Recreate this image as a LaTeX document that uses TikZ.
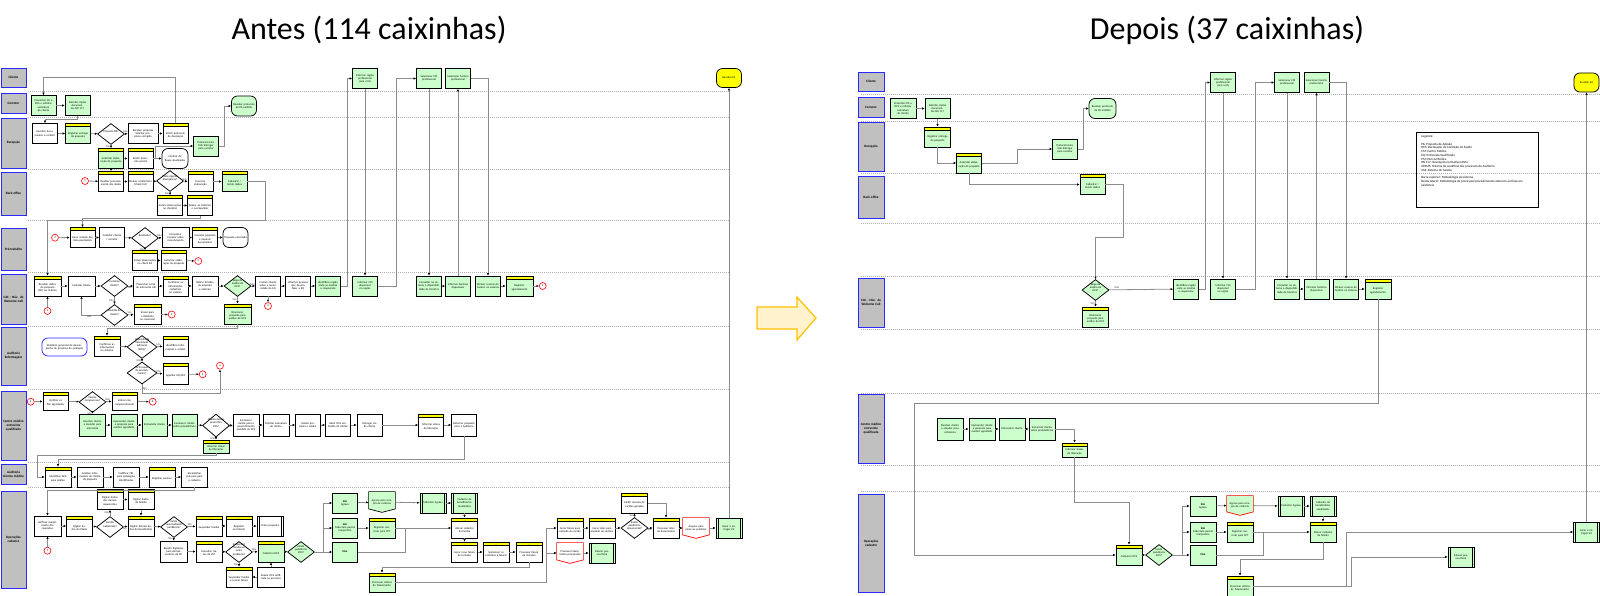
\documentclass[tikz,border=0pt]{standalone}
\usepackage{fontspec}
\setmainfont{Carlito}
\usetikzlibrary{shapes.geometric,arrows.meta,backgrounds}
\definecolor{grn}{RGB}{204,255,204}
\definecolor{hdy}{RGB}{255,255,0}
\definecolor{lanefill}{RGB}{192,192,192}
\definecolor{laneblue}{RGB}{40,40,255}
\definecolor{cgray}{RGB}{140,140,140}
\definecolor{sgray}{RGB}{175,175,175}
\definecolor{arrfill}{RGB}{255,242,204}
\definecolor{arrdraw}{RGB}{255,192,0}
\newcommand\bxf{\fontsize{2.8}{3.2}\selectfont}
\newcommand\hdf{\fontsize{1.9}{2}\selectfont}
\newcommand\lnf{\fontsize{3.3}{3.8}\selectfont\bfseries}
\newcommand\lgf{\fontsize{3.2}{3.75}\selectfont}
\newcommand\dt[1]{\makebox[0pt]{\smash{\parbox[c]{16pt}{\centering\bxf #1}}}}
\newcommand\offshape[3]{\begin{scope}[on background layer]\filldraw[fill=#2,draw=#3,line width=0.7pt] (#1.north west) -- (#1.north east) -- ([yshift=3.5pt]#1.south east) -- (#1.south) -- ([yshift=3.5pt]#1.south west) -- cycle;\end{scope}}
\tikzset{
 bx/.style={draw, line width=0.75pt, fill=white, minimum width=25pt, minimum height=20pt, inner sep=0.6pt, text width=22.5pt, align=center, font=\bxf},
 gb/.style={bx, fill=grn},
 hd/.style={path picture={\fill[hdy] (path picture bounding box.north west) rectangle ([yshift=-3.2pt]path picture bounding box.north east);
   \draw[line width=0.5pt] ([yshift=-3.2pt]path picture bounding box.north west) -- ([yshift=-3.2pt]path picture bounding box.north east);
   \node[font=\hdf, inner sep=0pt] at ([yshift=-1.6pt]path picture bounding box.north) {#1};}, execute at begin node={\rule{0pt}{5.4pt}}},
 hd/.default=Arquivo,
 sub/.style={path picture={\draw[line width=0.5pt] ([xshift=2.2pt]path picture bounding box.north west) -- ([xshift=2.2pt]path picture bounding box.south west);
   \draw[line width=0.5pt] ([xshift=-2.2pt]path picture bounding box.north east) -- ([xshift=-2.2pt]path picture bounding box.south east);}},
 term/.style={bx, rounded corners=6pt},
 offp/.style={bx, draw=none, fill=none},
 dec/.style={diamond, draw, line width=0.75pt, fill=white, minimum width=27pt, minimum height=21pt, inner sep=0pt},
 gdec/.style={dec, fill=grn},
 cn/.style={circle, draw=red, line width=0.6pt, fill=white, minimum size=7pt, inner sep=0pt, font=\bxf},
 conn/.style={draw=cgray, line width=0.8pt, -{Latex[length=2.4pt,width=2.2pt,color=black]}},
 ln/.style={draw=cgray, line width=0.8pt},
 lane/.style={draw=laneblue, line width=0.9pt, fill=lanefill, minimum width=25pt, inner sep=0.5pt, text width=23pt, align=center, font=\lnf},
 lanesep/.style={draw=sgray, line width=0.5pt, dash pattern=on 1pt off 1pt},
 lbl/.style={font=\bxf, inner sep=0.4pt, text=black!75},
}
\begin{document}
\begin{tikzpicture}[x=1pt,y=-1pt]
\useasboundingbox (0,0) rectangle (1600,596);
% titles
\node[font=\fontsize{32}{38}\selectfont, anchor=base] (tAntes) at (369,40) {Antes (114 caixinhas)};
\node[font=\fontsize{32}{38}\selectfont, anchor=base] (tDepois) at (1227,40) {Depois (37 caixinhas)};
% big arrow
\filldraw[fill=arrfill, draw=arrdraw, line width=1.2pt] (757,307) -- (797,307) -- (797,297) -- (816,318) -- (797,340) -- (797,329) -- (757,329) -- cycle;
% lane separators
\foreach \yy in {91,117,169,220,272,326,389,462,487} \draw[lanesep] (28,\yy) -- (730,\yy);
\foreach \yy in {94,121,173,223,276,329,393,465,491} \draw[lanesep] (861,\yy) -- (1600,\yy);
% lane labels left
\node[lane, minimum height=19pt] (LL1) at (13.5,77.5) {Cliente};
\node[lane, minimum height=20pt] (LL2) at (13.5,103) {Corretor};
\node[lane, minimum height=50pt] (LL3) at (13.5,143) {Recepção};
\node[lane, minimum height=43pt] (LL4) at (13.5,193.5) {Back office};
\node[lane, minimum height=42pt] (LL5) at (13.5,249) {Pré-trabalho};
\node[lane, minimum height=50pt] (LL6) at (13.5,299) {CAC - Núc. de Welcome Call};
\node[lane, minimum height=58pt] (LL7) at (13.5,356) {Auditoria Enfermagem};
\node[lane, minimum height=69pt] (LL8) at (13.5,425.5) {Centro médico entrevista qualificada};
\node[lane, minimum height=20pt] (LL9) at (13.5,474) {Auditoria técnica médica};
\node[lane, minimum height=97pt] (LL10) at (13.5,539.5) {Operações cadastro};
% lane labels right
\node[lane, minimum width=26pt, minimum height=19pt] (RL1) at (871,81.5) {Cliente};
\node[lane, minimum width=26pt, minimum height=20pt] (RL2) at (871,107) {Corretor};
\node[lane, minimum width=26pt, minimum height=49pt] (RL3) at (871,146.5) {Recepção};
\node[lane, minimum width=26pt, minimum height=42pt] (RL4) at (871,197) {Back office};
\node[lane, minimum width=26pt, minimum height=49pt] (RL6) at (871,302.5) {CAC - Núc. de Welcome Call};
\node[lane, minimum width=26pt, minimum height=69pt] (RL8) at (871,428.5) {Centro médico entrevista qualificada};
\node[lane, minimum width=26pt, minimum height=98pt] (RL10) at (871,543) {Operações cadastro};

% ================= LEFT (Antes) =================
% Cliente
\node[gb] (T1) at (365,78.5) {Informar região preferencial para a EQ};
\node[gb] (T2) at (429,78.5) {Selecionar CM preferencial};
\node[gb] (T3) at (458,78.5) {Selecionar horário preferencial};
\node[term, fill=hdy, minimum height=19pt] (KIT) at (729,78) {Receber kit};
% Corretor
\node[gb] (A1) at (43.5,105.5) {Preencher PA e DCS e solicitar assinatura do cliente};
\node[gb] (A2) at (77.5,105.5) {Solicitar cópias documentos RN 117};
\node[term, fill=grn] (R9) at (244,106) {Receber protocolo da PA emitido};
% Recepcao
\node[bx] (R1) at (45,133.5) {Receber documentos e conferir};
\node[gb, hd] (R2) at (78,133.5) {Registrar entrega da proposta};
\node[dec] (D1) at (111,134) {\dt{Proposta OK?}};
\node[bx, minimum width=30pt, text width=27pt] (R3) at (143,133.5) {Receber proposta Solicitar proposta corrigida};
\node[bx, hd] (R4) at (175.5,133.5) {Emitir protocolo de devolução};
\node[gb, hd] (R5) at (111,158.5) {Autorizar elaboração da proposta};
\node[bx, hd] (R6) at (140.5,158.5) {Emitir protocolo parcial};
\node[term, minimum width=26pt] (R7) at (175,158.5) {Conferir de fluxos atualizados};
\node[gb] (R8) at (206,146) {Protocolo Emitido Entregar para corretor};
% Back office
\node[cn] (c5a) at (85,181) {5};
\node[bx, hd] (B1) at (111,181.5) {Realizar processamento dos dados};
\node[bx, hd] (B2) at (140.5,181.5) {Efetuar conferência (check list)};
\node[dec] (D2) at (170,181) {\dt{Existe alguma divergência?}};
\node[bx, hd] (B3) at (200.5,181.5) {Encerrar elaboração};
\node[gb, hd] (B4) at (234.5,181.5) {Cadastrar / Incluir dados};
\node[bx, hd] (B5) at (170,205.5) {Incluir observações no checklist};
\node[bx, hd] (B6) at (200,205.5) {Anexar ao histórico e acompanhar};
% Pre-trabalho
\node[cn] (c2a) at (55,237.7) {2};
\node[bx, hd] (P1) at (82.5,237.5) {Gerar relação dos itens pendentes};
\node[bx] (P2) at (112,237.5) {Contatar cliente / corretor};
\node[dec] (D3) at (145,238) {\dt{Resolvido?}};
\node[bx, minimum width=27pt] (P3) at (175.5,237.5) {Comunicar corretor sobre cancelamento};
\node[bx, hd] (P4) at (205,237.5) {Cancelar proposta e arquivar documentos};
\node[term] (P5) at (235.5,237.5) {Proposta cancelada};
\node[bx, hd] (P6) at (145,260.5) {Incluir observações no check list};
\node[bx, hd] (P7) at (173.5,260.5) {Autorizar elaboração da proposta};
\node[cn] (c5b) at (198.3,261) {5};
% CAC
\node[bx, hd, minimum width=27pt] (C1) at (47.5,286) {Receber dados da proposta (PA) via sistema};
\node[cn] (c1a) at (47.5,311) {1};
\node[bx, minimum width=27pt] (C2) at (81.5,286) {Contatar cliente};
\node[dec] (D4) at (114.5,286) {\dt{Localizou cliente?}};
\node[bx] (C3) at (146,286) {Preencher script de entrevista call};
\node[bx, hd] (C4) at (175.5,286) {Confirmar as informações cadastrais no sistema};
\node[bx, minimum width=26pt] (C5) at (205,286) {Retirar dúvidas da proposta e contrato};
\node[gdec] (D5) at (237.5,286) {\dt{Exige de análise da DCS?}};
\node[bx] (C6) at (268,286) {Instruir cliente sobre a necessidade da EQ};
\node[cn] (c3a) at (268,306) {3};
\node[dec] (D6) at (114.5,315) {\dt{Dúvidas do cliente?}};
\node[bx, hd, minimum width=27pt] (C7) at (147.5,314.5) {Enviar para o Relatório ao comercial};
\node[cn] (c2b) at (171.7,314.5) {2};
\node[gb, hd, minimum width=27pt] (C8) at (237.5,314) {Direcionar proposta para análise de DCS};
\node[bx] (C9) at (298,286) {Informar pessoas que devem fazer a EQ};
\node[gb] (C10) at (328,286) {Identificar região onde se localiza o requerente};
\node[gb] (C11) at (365,286) {Informar CM disponível na região};
\node[gb] (C12) at (429,286) {Consultar no sistema a disponibilidade de horários};
\node[gb] (C13) at (458,286) {Informar horários disponíveis};
\node[gb] (C14) at (488,286) {Efetuar reserva do horário no sistema};
\node[gb, hd, minimum width=27pt] (C15) at (519.5,286) {Registrar agendamento};
\node[cn] (c4a) at (542.7,286) {4};
% Auditoria Enfermagem
\node[bx, rounded corners=6pt, draw=laneblue, minimum width=45pt, minimum height=18pt, text width=40pt] (E0) at (64.5,347) {Relatório gerencial de desempenho do processo de avaliação};
\node[bx, hd, minimum width=26pt] (E1) at (107,346) {Confirmar as informações no sistema};
\node[dec, minimum width=30pt, minimum height=23pt] (D7) at (142,347) {\dt{Necessita de informação adicional (DCS)?}};
\node[bx, hd] (E2) at (175.5,346) {Identificar informações a coletar};
\node[dec, minimum width=30pt, minimum height=22pt] (D8) at (142,373) {\dt{DCS requer de procedimento?}};
\node[bx, hd, minimum height=21pt] (E3) at (175.5,374) {Agendar EQ/PM};
\node[cn] (c3b) at (202.7,374.3) {3};
\node[cn] (c4b) at (220,365.7) {4};
% Centro medico
\node[cn] (c4c) at (30.7,401.7) {4};
\node[bx, hd, minimum height=18pt] (M1) at (55.5,401) {Verificar os PAs agendados};
\node[dec] (D9) at (92.5,402) {\dt{Cliente compareceu?}};
\node[bx, hd, minimum height=18pt] (M2) at (124.5,401) {Indicar não comparecimento};
\node[cn] (c6a) at (152.7,401.7) {6};
\node[gb, minimum width=26pt, minimum height=22pt] (M3) at (92.5,425) {Receber cliente e atender para entrevista};
\node[gb, minimum width=26pt, minimum height=22pt] (M4) at (124,425) {Apresentar cliente a proposta para médico agendado};
\node[gb, minimum height=22pt] (M5) at (154.5,425) {Entrevistar cliente};
\node[gb, minimum height=22pt] (M6) at (184.5,425) {Esclarecer cliente sobre preexistência};
\node[dec, minimum height=23pt] (D10) at (216,425.5) {\dt{Cliente deseja preencher DCS?}};
\node[gb, hd, minimum width=26pt, minimum height=13pt] (M7) at (216,446.5) {Informar status de liberação};
\node[bx, minimum width=26pt, minimum height=22pt] (M8) at (246,425) {Esclarecer cliente para o preenchimento assistido da DCS};
\node[bx, minimum width=26pt, minimum height=22pt] (M9) at (276,425) {Solicitar assinatura do cliente};
\node[bx, minimum height=22pt] (M10) at (308,425) {Avaliar proposta e validar};
\node[bx, minimum height=22pt] (M11) at (338,425) {Reter DCS embutida do cliente};
\node[bx, minimum height=22pt] (M12) at (369.5,425) {Entregar via do cliente};
\node[bx, hd, minimum height=22pt] (M13) at (431,425) {Informar status de liberação};
\node[bx, minimum height=22pt] (M14) at (464,425) {Retornar proposta para a Auditoria};
% Auditoria tecnica
\node[bx, hd, minimum width=26pt] (TA1) at (58,477) {Identificar DCS para análise};
\node[bx, minimum width=26pt] (TA2) at (90,477) {Analisar informações do cliente da proposta};
\node[bx, minimum width=26pt] (TA3) at (126,477) {Codificar CID para patologias identificadas};
\node[bx, hd, minimum width=26pt] (TA4) at (162,477) {Registrar parecer};
\node[bx, minimum width=26pt] (TA5) at (194.5,477) {Encaminhar processo para o cadastro};
% Operacoes
\node[bx, minimum width=27pt] (O1) at (47.5,526) {Verificar cumprimento dos requisitos};
\node[cn] (c1b) at (47.5,550.7) {1};
\node[bx, hd, minimum width=26pt] (O2) at (79.5,526) {Digitar dados do titular};
\node[dec] (D11) at (110,527) {\dt{Família cadastrada?}};
\node[bx, hd, minimum width=26pt] (O3) at (110,499.5) {Digitar dados dos demais requerentes};
\node[bx, hd, minimum width=26pt] (O4) at (141,499.5) {Digitar dados da família};
\node[bx, hd=SGS, minimum width=26pt] (O5) at (141,526) {Digitar demais dados do beneficiário};
\node[dec] (D12) at (174,527) {\dt{Existe anormalidade pendência?}};
\node[bx, hd=SGS, minimum width=26pt] (O6) at (209,526) {Suspender família};
\node[bx, hd=SGS, minimum width=26pt] (O7) at (239,526) {Registrar ocorrência};
\node[bx, sub, minimum width=26pt] (O8) at (270,526) {Tratar proposta};
\node[bx, minimum width=27pt, minimum height=21pt] (O9) at (173.5,551.5) {Repetir digitação para demais usuários da PA};
\node[bx, hd=SGS, minimum width=26pt, minimum height=21pt] (O10) at (209,551.5) {Consultar status da PM};
\node[dec] (D13) at (239,552) {\dt{Suspender família ou outro problema?}};
\node[bx, hd=SGS, minimum width=26pt] (O11) at (239,577) {Suspender família e revisar fatura};
\node[bx, minimum width=27pt] (O12) at (271,577) {Anexar DCS retificada ao processo};
\node[gb, hd=SGS, minimum width=26pt, minimum height=21pt] (O13) at (271,551.5) {Cadastrar DCS};
\node[gdec] (D14) at (301,552) {\dt{Existe pendência DCS?}};
\node[gb] (O14) at (345,503) {\textbf{Sim}\\Agravo};
\node[offp, minimum width=26pt] (O15) at (382,502) {Agravo para compra de carência};
\offshape{O15}{grn}{black}
\node[gb, sub, minimum width=26pt] (O16) at (433,503) {Cadastrar Agravo};
\node[gb, sub, minimum width=26pt] (O17) at (464.5,503) {Cadastro de beneficiários atualizados};
\node[gb] (O18) at (345,528) {\textbf{Sim}\\Cobertura parcial temporária};
\node[gb, hd=SGS, minimum width=26pt] (O19) at (382,528) {Registrar contrato para CPT};
\node[bx, hd=SGS, minimum width=26pt] (O20) at (464.5,528) {Alterar cadastro da família};
\node[gb] (O21) at (345,552) {\textbf{Não}};
\node[bx, hd=SGS, minimum width=26pt] (O22) at (464.5,552) {Gerar nova fatura de inclusão};
\node[bx, hd=SGS, minimum width=26pt] (O23) at (496,552) {Selecionar os contratos a faturar};
\node[bx, hd=SGS, minimum width=26pt] (O24) at (529,552) {Processar fatura de inclusão};
\node[gb, hd=SGS, minimum width=26pt, minimum height=19pt] (O25) at (382,582.5) {Processar rotinas de faturamento};
\node[bx, hd=SGS, minimum width=26pt] (O26) at (570,528) {Gerar fatura para emissão do cartão};
\node[offp, minimum width=26pt] (O27) at (570,553) {Processo faturamento processado};
\offshape{O27}{white}{red}
\node[gb, sub, minimum width=26pt] (O28) at (602,553) {Faturar pessoa física};
\node[bx, hd=SGS, minimum width=26pt] (O29) at (602,528) {Gerar lotes para emissão de cartões};
\node[dec] (D15) at (634.5,528) {\dt{Existe pendência documental?}};
\node[bx, hd=SGS, minimum width=26pt] (O30) at (634.5,503) {Emitir resumo de cartões gerados};
\node[bx, hd=SGS, minimum width=26pt] (O31) at (666,528) {Processar lotes de documentos};
\node[offp, minimum width=26pt] (O32) at (696,528) {Arquivo para envio ao produtor};
\offshape{O32}{white}{red}
\node[gb, sub, minimum width=26pt] (O33) at (729,528) {Gerar e entregar kit};

% ---- left connectors
\draw[conn] (A1) -- (A2);
\draw[conn] (R4.north) -- (R4.north |- 0,77) -| (A1.north);
\draw[conn] (A2.south) -- (A2.south |- 0,119.5) -| (R1.north);
\draw[conn] (R1) -- (R2);
\draw[conn] (R2) -- (D1);
\draw[conn] (D1) -- node[lbl,above,pos=0.3]{Não} (R3);
\draw[conn] (R3) -- (R4);
\draw[conn] (D1) -- node[lbl,left,pos=0.45]{Sim} (R5);
\draw[conn] (R5) -- (R6);
\draw[conn] (R6) -- (R7);
\draw[conn] ([xshift=2pt]R6.east) |- (R8.west);
\draw[conn] (R8.east) -- ++(6,0) |- (R9.west);
\draw[conn] (R5) -- (B1);
\draw[conn] (c5a) -- (B1);
\draw[conn] (B1) -- (B2);
\draw[conn] (B2) -- (D2);
\draw[conn] (D2) -- node[lbl,above,pos=0.3]{Não} (B3);
\draw[conn] (B3) -- (B4);
\draw[conn] (D2) -- node[lbl,left,pos=0.45]{Sim} (B5);
\draw[conn] (B5) -- (B6);
\draw[conn] (B4.east) -| (265,220) -| (C1.north);
\draw[conn] (B6.south) -- (B6.south |- 0,218) -| (P1.north);
\draw[conn] (c2a) -- (P1);
\draw[conn] (P1) -- (P2);
\draw[conn] (P2) -- (D3);
\draw[conn] (D3) -- node[lbl,above,pos=0.3]{Não} (P3);
\draw[conn] (P3) -- (P4);
\draw[conn] (P4) -- (P5);
\draw[conn] (D3) -- node[lbl,left,pos=0.45]{Sim} (P6);
\draw[conn] (P6) -- (P7);
\draw[conn] (P7) -- (c5b);
\draw[conn] (c1a) -- (C1);
\draw[conn] (C1) -- (C2);
\draw[conn] (C2) -- (D4);
\draw[conn] (D4) -- node[lbl,below,pos=0.3]{Sim} (C3);
\draw[conn] (C3) -- (C4);
\draw[conn] (C4) -- (C5);
\draw[conn] (C5) -- (D5);
\draw[conn] (D5) -- node[lbl,above,pos=0.3]{Não} (C6);
\draw[conn] (C6) -- (c3a);
\draw[conn] (D4) -- node[lbl,left,pos=0.5]{Não} (D6);
\draw[conn] (D6) -- node[lbl,above,pos=0.3]{Sim} (C7);
\draw[conn] (C7) -- (c2b);
\draw[conn] (D6.west) -| node[lbl,below,pos=0.3]{Não} (C2.south);
\draw[conn] (D5) -- node[lbl,left,pos=0.45]{Sim} (C8);
\draw[conn] (C6) -- (C9);
\draw[conn] (C9) -- (C10);
\draw[conn] (C10.east) -- ++(7,0) |- (T1.west);
\draw[conn] (T1) -- (C11);
\draw[conn] (C11.east) -- ++(19,0) |- (T2.west);
\draw[conn] (T2) -- (C12);
\draw[conn] (C12) -- (C13);
\draw[conn] (C13) -- (T3);
\draw[conn] (T3.east) -| (C14.north);
\draw[conn] (C14) -- (C15);
\draw[conn] (C15) -- (c4a);
\draw[conn] (C8.south) |- (E1.north |- 0,328) -- (E1.north);
\draw[conn] (E1) -- (D7);
\draw[conn] (D7) -- node[lbl,above,pos=0.3]{Sim} (E2);
\draw[conn] (D7) -- node[lbl,left,pos=0.5]{Não} (D8);
\draw[conn] (D8) -- node[lbl,above,pos=0.3]{Não} (E3);
\draw[conn] (E3) -- (c3b);
\draw[conn] (D8.south) -- node[lbl,right,pos=0.5]{Sim} (D8.south |- 0,393) -| (c4b.south);
\draw[conn] (c4c) -- (M1);
\draw[conn] (M1) -- (D9);
\draw[conn] (D9) -- node[lbl,above,pos=0.3]{Não} (M2);
\draw[conn] (M2) -- (c6a);
\draw[conn] (D9) -- node[lbl,left,pos=0.45]{Sim} (M3);
\draw[conn] (M3) -- (M4);
\draw[conn] (M4) -- (M5);
\draw[conn] (M5) -- (M6);
\draw[conn] (M6) -- (D10);
\draw[conn] (D10) -- node[lbl,below,pos=0.3]{Sim} (M8);
\draw[conn] (D10) -- node[lbl,left,pos=0.4]{Não} (M7);
\draw[conn] (M8) -- (M9);
\draw[conn] (M9) -- (M10);
\draw[conn] (M10) -- (M11);
\draw[conn] (M11) -- (M12);
\draw[conn] (M12) -- (M13);
\draw[conn] (M13) -- (M14);
\draw[conn] (M14.south) -- (M14.south |- 0,459) -| (TA1.north);
\draw[conn] (M7.south) |- (37,455) |- (TA1.west);
\draw[conn] (TA1) -- (TA2);
\draw[conn] (TA2) -- (TA3);
\draw[conn] (TA3) -- (TA4);
\draw[conn] (TA4) -- (TA5);
\draw[conn] (TA5.south) -- (TA5.south |- 0,490) -| (O1.north);
\draw[conn] (c1b) -- (O1);
\draw[conn] (O1) -- (O2);
\draw[conn] (O2) -- (D11);
\draw[conn] (D11) -- node[lbl,left,pos=0.5]{Não} (O3);
\draw[conn] (O3) -- (O4);
\draw[conn] (O4) -- (O5);
\draw[conn] (D11) -- node[lbl,below,pos=0.3]{Sim} (O5);
\draw[conn] (O5) -- (D12);
\draw[conn] (D12) -- node[lbl,above,pos=0.3]{Sim} (O6);
\draw[conn] (O6) -- (O7);
\draw[conn] (O7) -- (O8);
\draw[conn] (D12) -- node[lbl,left,pos=0.45]{Não} (O9);
\draw[conn] (O9) -- (O10);
\draw[conn] (O10) -- (D13);
\draw[conn] (D13) -- node[lbl,above,pos=0.3]{Não} (O13);
\draw[conn] (D13) -- node[lbl,left,pos=0.45]{Sim} (O11);
\draw[conn] (O12) -- (O11);
\draw[conn] (O12) -- (O13);
\draw[conn] (O13) -- (D14);
\draw[conn] (D14.east) -- ++(9,0) |- (O14.west);
\draw[conn] ([xshift=9pt]D14.east) |- (O18.west);
\draw[conn] (D14.east) -- (O21.west);
\draw[conn] (O14) -- (O15);
\draw[conn] (O15) -- (O16);
\draw[conn] (O16) -- (O17);
\draw[conn] (O17) -- (O20);
\draw[conn] (O18) -- (O19);
\draw[conn] (O19) -- (O20);
\draw[ln] (O21.east) -| ([xshift=10pt]O19.east);
\draw[conn] (O20) -- (O22);
\draw[conn] (O22) -- (O23);
\draw[conn] (O23) -- (O24);
\draw[conn] (O24.south) -- (O24.south |- 0,567) -| (O25.north);
\draw[conn] (O25.east) -| ([xshift=-10pt]O26.west) -- (O26.west);
\draw[conn] ([xshift=-10pt]O27.west) -- (O27.west);
\draw[conn] (O26) -- (O29);
\draw[conn] (O29) -- (D15);
\draw[conn] (D15) -- node[lbl,below,pos=0.3]{Não} (O31);
\draw[conn] (D15) -- node[lbl,left,pos=0.45]{Sim} (O30);
\draw[conn] (O30.east) -| (O31.north);
\draw[conn] (O31) -- (O32);
\draw[conn] (O32) -- (O33);
\draw[conn] (O27) -- (O28);
\draw[conn] (O33) -- (KIT);

% ================= RIGHT (Depois) =================
\node[gb, minimum width=26pt] (RA1) at (903,108.5) {Preencher PA e DCS e solicitar assinatura do cliente};
\node[gb] (RA2) at (937.5,108.5) {Solicitar cópias documentos RN 117};
\node[term, fill=grn, minimum width=27pt] (RA9) at (1102.5,108.5) {Receber protocolo da PA emitido};
\node[gb, hd, minimum width=26pt] (RR2) at (937.5,137) {Registrar entrega da proposta};
\node[gb, hd] (RR5) at (969,163) {Autorizar elaboração da proposta};
\node[gb] (RR8) at (1065,149) {Protocolo Emitido Entregar para corretor};
\node[gb, hd] (RB4) at (1092.5,184.5) {Cadastrar / Incluir dados};
\node[gdec] (RD5) at (1095.5,290) {\dt{Exige de análise da DCS?}};
\node[gb, hd, minimum width=26pt] (RC8) at (1095.5,317) {Direcionar proposta para análise de DCS};
\node[gb] (RC10) at (1186,289) {Identificar região onde se localiza o requerente};
\node[gb] (RC11) at (1223,289) {Informar CM disponível na região};
\node[gb] (RC12) at (1287,289) {Consultar no sistema a disponibilidade de horários};
\node[gb] (RC13) at (1316.5,289) {Informar horários disponíveis};
\node[gb] (RC14) at (1346,289) {Efetuar reserva do horário no sistema};
\node[gb, hd, minimum width=26pt] (RC15) at (1378,289) {Registrar agendamento};
\node[gb] (RT1) at (1223,82.5) {Informar região preferencial para a EQ};
\node[gb] (RT2) at (1287,82.5) {Selecionar CM preferencial};
\node[gb] (RT3) at (1316.5,82.5) {Selecionar horário preferencial};
\node[term, fill=hdy, minimum height=19pt] (RKIT) at (1586.5,82.5) {Receber kit};
\node[draw, line width=0.75pt, anchor=north west, inner xsep=5pt, inner ysep=3pt] (LEG) at (1416,132) {\parbox[c][69pt][t]{112pt}{\lgf\raggedright Legenda:\\[3.75pt]
PA: Proposta de Adesão\\
DCS: Declaração de Condição de Saúde\\
CM: Centro Médico\\
EQ: Entrevista Qualificada\\
PM: Perícia Médica\\
RN 117: Resolução normativa (ANS)\\
ATRMS: Sistema de workflow dos processos de Auditoria\\
SGS: Sistema de Gestão\\[3.75pt]
Barra superior: Metodologia do sistema\\
Borda lateral: Metodologia de processos/procedimentos externos ao fluxo em existência}};
\node[gb, minimum width=26pt, minimum height=22pt] (RM3) at (950,429) {Receber cliente e atender para entrevista};
\node[gb, minimum width=26pt, minimum height=22pt] (RM4) at (982,429) {Apresentar cliente a proposta para médico agendado};
\node[gb, minimum width=26pt, minimum height=22pt] (RM5) at (1012,429) {Entrevistar cliente};
\node[gb, minimum width=26pt, minimum height=22pt] (RM6) at (1042,429) {Esclarecer cliente sobre preexistência};
\node[gb, hd, minimum height=14pt] (RM7) at (1074.5,450) {Informar status de liberação};
\node[gb, hd=SGS, minimum width=26pt] (RO13) at (1129,555) {Cadastrar DCS};
\node[gdec] (RD14) at (1159,555) {\dt{Existe pendência DCS?}};
\node[gb, minimum width=26pt] (RO14) at (1203,506) {\textbf{Sim}\\Agravo};
\node[gb, minimum width=26pt] (RO18) at (1203,532) {\textbf{Sim}\\Cobertura parcial temporária};
\node[gb, minimum width=26pt] (RO21) at (1203,555) {\textbf{Não}};
\node[offp, minimum width=26pt, minimum height=19pt] (RO15) at (1240,505.5) {Agravo para compra de carência};
\offshape{RO15}{grn}{red}
\node[gb, sub, minimum width=26pt] (RO16) at (1291,506) {Cadastrar Agravo};
\node[gb, sub, minimum width=26pt] (RO17) at (1323,506) {Cadastro de beneficiários atualizados};
\node[gb, hd=SGS, minimum width=26pt] (RO19) at (1240,532) {Registrar contrato para CPT};
\node[gb, hd=SGS, minimum width=26pt] (RO20) at (1323,532) {Alterar cadastro da família};
\node[gb, hd=SGS, minimum width=26pt] (RO25) at (1240,586) {Processar rotinas de faturamento};
\node[gb, sub, minimum width=26pt] (RO28) at (1461,557) {Faturar pessoa física};
\node[gb, sub, minimum width=26pt] (RO33) at (1586.5,532) {Gerar e entregar kit};

% ---- right connectors
\draw[conn] (RA1) -- (RA2);
\draw[conn] (RA2) -- (RR2);
\draw[conn] (RR2.south) |- (RR5.west);
\draw[conn] (RR5.east) -- ++(36,0) |- (RR8.west);
\draw[conn] (RR8.east) -- ++(6,0) |- (RA9.west);
\draw[conn] (RR5.south) |- (RB4.west);
\draw[conn] (RB4.east) -| (1123,237) -| (RD5.north);
\draw[conn] (RD5) -- node[lbl,above,pos=0.12]{Não} (RC10);
\draw[conn] (RD5) -- node[lbl,left,pos=0.45]{Sim} (RC8);
\draw[conn] (RC10.east) -- ++(7,0) |- (RT1.west);
\draw[conn] (RT1) -- (RC11);
\draw[conn] (RC11.east) -- ++(20,0) |- (RT2.west);
\draw[conn] (RT2) -- (RC12);
\draw[conn] (RC12) -- (RC13);
\draw[conn] (RC13) -- (RT3);
\draw[conn] (RT3.east) -| (RC14.north);
\draw[conn] (RC14) -- (RC15);
\draw[conn] (RC15.south) |- (914,403) |- (RO13.west);
\draw[conn] (RM3) -- (RM4);
\draw[conn] (RM4) -- (RM5);
\draw[conn] (RM5) -- (RM6);
\draw[conn] (RM6.east) -| (RM7.north);
\draw[conn] (RM7.south) |- (RO13.north |- 0,502) -- (RO13.north);
\draw[conn] (RO13) -- (RD14);
\draw[conn] (RD14.east) -- ++(10,0) |- (RO14.west);
\draw[conn] ([xshift=10pt]RD14.east) |- (RO18.west);
\draw[conn] (RD14.east) -- (RO21.west);
\draw[conn] (RO14) -- (RO15);
\draw[conn] (RO15) -- (RO16);
\draw[conn] (RO16) -- (RO17);
\draw[conn] (RO17) -- (RO20);
\draw[conn] (RO18) -- (RO19);
\draw[conn] (RO19) -- (RO20);
\draw[ln] (RO21.east) -| ([xshift=10pt]RO19.east);
\draw[conn] (RO20.south) |- (RO25.north |- 0,559) -- (RO25.north);
\draw[conn] (RO25.east) -| (1346,532) -- (RO33.west);
\draw[conn] (RO25.east) -| (1351,557) -- (RO28.west);
\draw[conn] (RO33) -- (RKIT);
\end{tikzpicture}
\end{document}
